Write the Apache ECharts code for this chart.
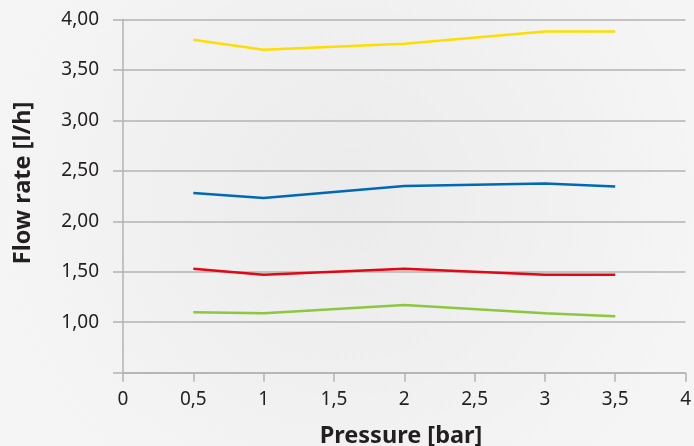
<!DOCTYPE html>
<html><head><meta charset="utf-8">
<script src="https://cdn.jsdelivr.net/npm/echarts@6/dist/echarts.min.js"></script>
<style>html,body{margin:0;padding:0;}#c{width:694px;height:446px;}</style>
</head><body><div id="c"></div>
<script>
const pressures = [0.5, 1, 2, 3, 3.5];
const yellow = [3.80, 3.70, 3.76, 3.88, 3.88];
const blue = [2.28, 2.23, 2.35, 2.375, 2.345];
const red = [1.53, 1.47, 1.53, 1.47, 1.47];
const green = [1.10, 1.09, 1.17, 1.09, 1.06];
const xTitle = 'Pressure [bar]';
const yTitle = 'Flow rate [l/h]';

function pairs(v){ return pressures.map((p,i)=>[p, v[i]]); }
const fmtX = v => String(v).replace('.', ',');
const fmtY = v => v === 0.5 ? '' : v.toFixed(2).replace('.', ',');

const chart = echarts.init(document.getElementById('c'));
const lineColor = '#b3b3b3';
const txt = '#231f20';
const font = 'Noto Sans';
function s(data, color){ return {type:'line', data:pairs(data), showSymbol:false, lineStyle:{color, width:2.5}, itemStyle:{color}}; }
chart.setOption({
  animation:false,
  backgroundColor:{type:'radial', x:0.5, y:0.45, r:0.8, colorStops:[{offset:0,color:'#ebebeb'},{offset:1,color:'#f5f5f5'}]},
  textStyle:{fontFamily:font},
  grid:{left:123, right:5, top:19.5, bottom:73.3},
  graphic:[
    {type:'text', x:23, y:183, rotation:Math.PI/2, style:{text:yTitle, font:'bold 23.5px "Noto Sans"', fill:txt, textAlign:'center', textVerticalAlign:'middle'}},
    {type:'text', x:401, y:436, style:{text:xTitle, font:'bold 23.5px "Noto Sans"', fill:txt, textAlign:'center', textVerticalAlign:'middle'}}
  ],
  xAxis:{type:'value', min:0, max:4, interval:0.5,
    axisLine:{show:true, lineStyle:{color:lineColor, width:1.5}},
    axisTick:{show:true, length:9, lineStyle:{color:lineColor, width:1.5}},
    axisLabel:{formatter:fmtX, fontSize:19, color:txt, margin:17},
    splitLine:{show:false}},
  yAxis:{type:'value', min:0.5, max:4, interval:0.5,
    axisLine:{show:true, lineStyle:{color:lineColor, width:1.5}},
    axisTick:{show:true, length:10, lineStyle:{color:lineColor, width:1.5}},
    axisLabel:{formatter:fmtY, fontSize:19, color:txt, margin:24},
    splitLine:{show:true, lineStyle:{color:lineColor, width:1.5}}},
  series:[s(yellow,'#ffdd00'), s(blue,'#0069b4'), s(red,'#e30613'), s(green,'#8dc63f')]
});
</script></body></html>
